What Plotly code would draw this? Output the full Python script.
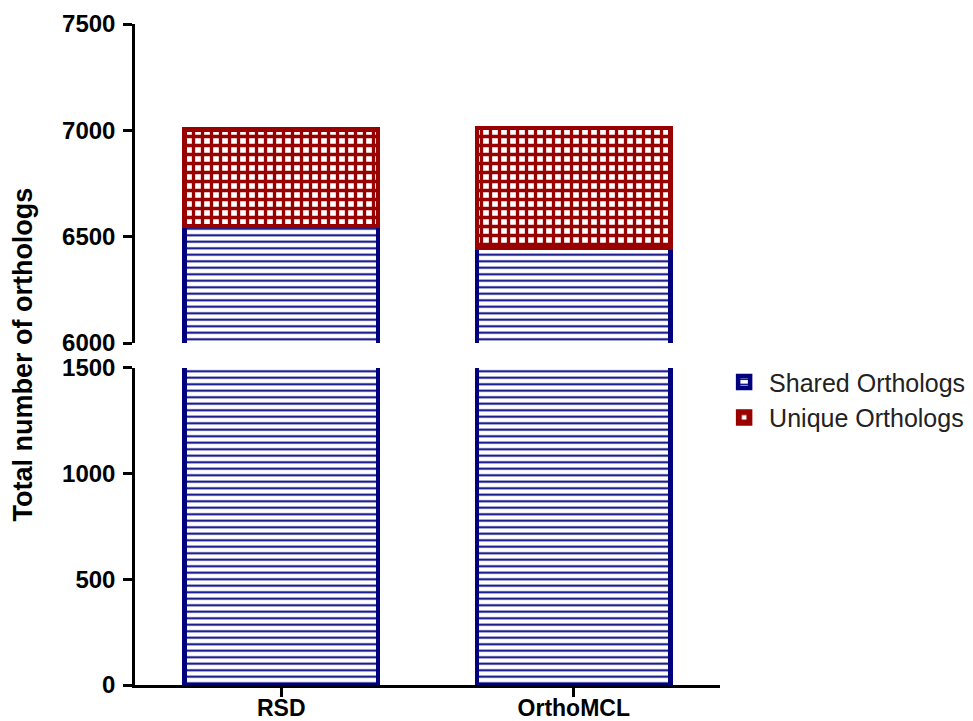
import plotly.graph_objects as go

categories = ["RSD", "OrthoMCL"]
shared = [6550, 6447]
unique = [455, 565]

lower_ticks = [0, 500, 1000, 1500]
upper_ticks = [6000, 6500, 7000, 7500]

NAVY = "#00007F"
RED = "#990000"
FONT = "Liberation Sans, Arial, sans-serif"

shared_pattern = dict(shape="-", fgcolor=NAVY, bgcolor="white", size=6.5, solidity=0.3, fillmode="replace")
unique_pattern = dict(shape="+", fgcolor=RED, bgcolor="white", size=9, solidity=0.6, fillmode="replace")

fig = go.Figure()
fig.add_trace(go.Bar(x=categories, y=shared, xaxis="x", yaxis="y", width=0.66,
                     marker=dict(color="white", line=dict(color=NAVY, width=4.5), pattern=shared_pattern),
                     name="Shared Orthologs", legendgroup="s", showlegend=False))
fig.add_trace(go.Bar(x=categories, y=shared, xaxis="x2", yaxis="y2", width=0.66,
                     marker=dict(color="white", line=dict(color=NAVY, width=4.5), pattern=shared_pattern),
                     name="Shared Orthologs", legendgroup="s"))
fig.add_trace(go.Bar(x=categories, y=unique, xaxis="x2", yaxis="y2", width=0.66,
                     marker=dict(color="white", line=dict(color=RED, width=4.5), pattern=unique_pattern),
                     name="Unique Orthologs", legendgroup="u"))

axis_common = dict(showline=True, linecolor="black", linewidth=2.5, ticks="outside",
                   ticklen=9, tickwidth=2.5, tickcolor="black", showgrid=False, zeroline=False,
                   automargin=False)
yfont = dict(family=FONT, size=24, color="black", weight="bold")
xfont = dict(family=FONT, size=23, color="black", weight="bold")

fig.update_layout(
    template="none",
    width=973, height=721,
    margin=dict(l=135, r=253, t=24, b=36, autoexpand=False),
    paper_bgcolor="white", plot_bgcolor="white",
    barmode="stack", bargap=0.34,
    xaxis=dict(domain=[0, 1], anchor="y", range=[-0.5, 1.5], tickfont=xfont, ticklabelstandoff=-8, **axis_common),
    xaxis2=dict(domain=[0, 1], anchor="y2", matches="x", visible=False),
    yaxis=dict(domain=[0, 0.4796], anchor="x", range=[0, 1500], tickvals=lower_ticks, tickfont=yfont,
               ticklabelstandoff=3, **axis_common),
    yaxis2=dict(domain=[0.5174, 1], anchor="x2", range=[6000, 7500], tickvals=upper_ticks, tickfont=yfont,
                ticklabelstandoff=3, **axis_common),
    legend=dict(x=0.9985, y=0.493, xanchor="left", yanchor="top", traceorder="normal",
                font=dict(family=FONT, size=25, color="#222222"), itemwidth=40, tracegroupgap=0,
                bgcolor="rgba(0,0,0,0)"),
    annotations=[dict(text="Total number of orthologs", xref="paper", yref="paper", x=-0.193, y=0.5,
                      textangle=-90, showarrow=False, xanchor="center", yanchor="middle",
                      font=dict(family=FONT, size=27, color="black", weight="bold"))],
)

fig.write_html("out.html", config={"displayModeBar": False},
               post_script="document.body.style.margin='0';document.body.style.overflow='hidden';")
